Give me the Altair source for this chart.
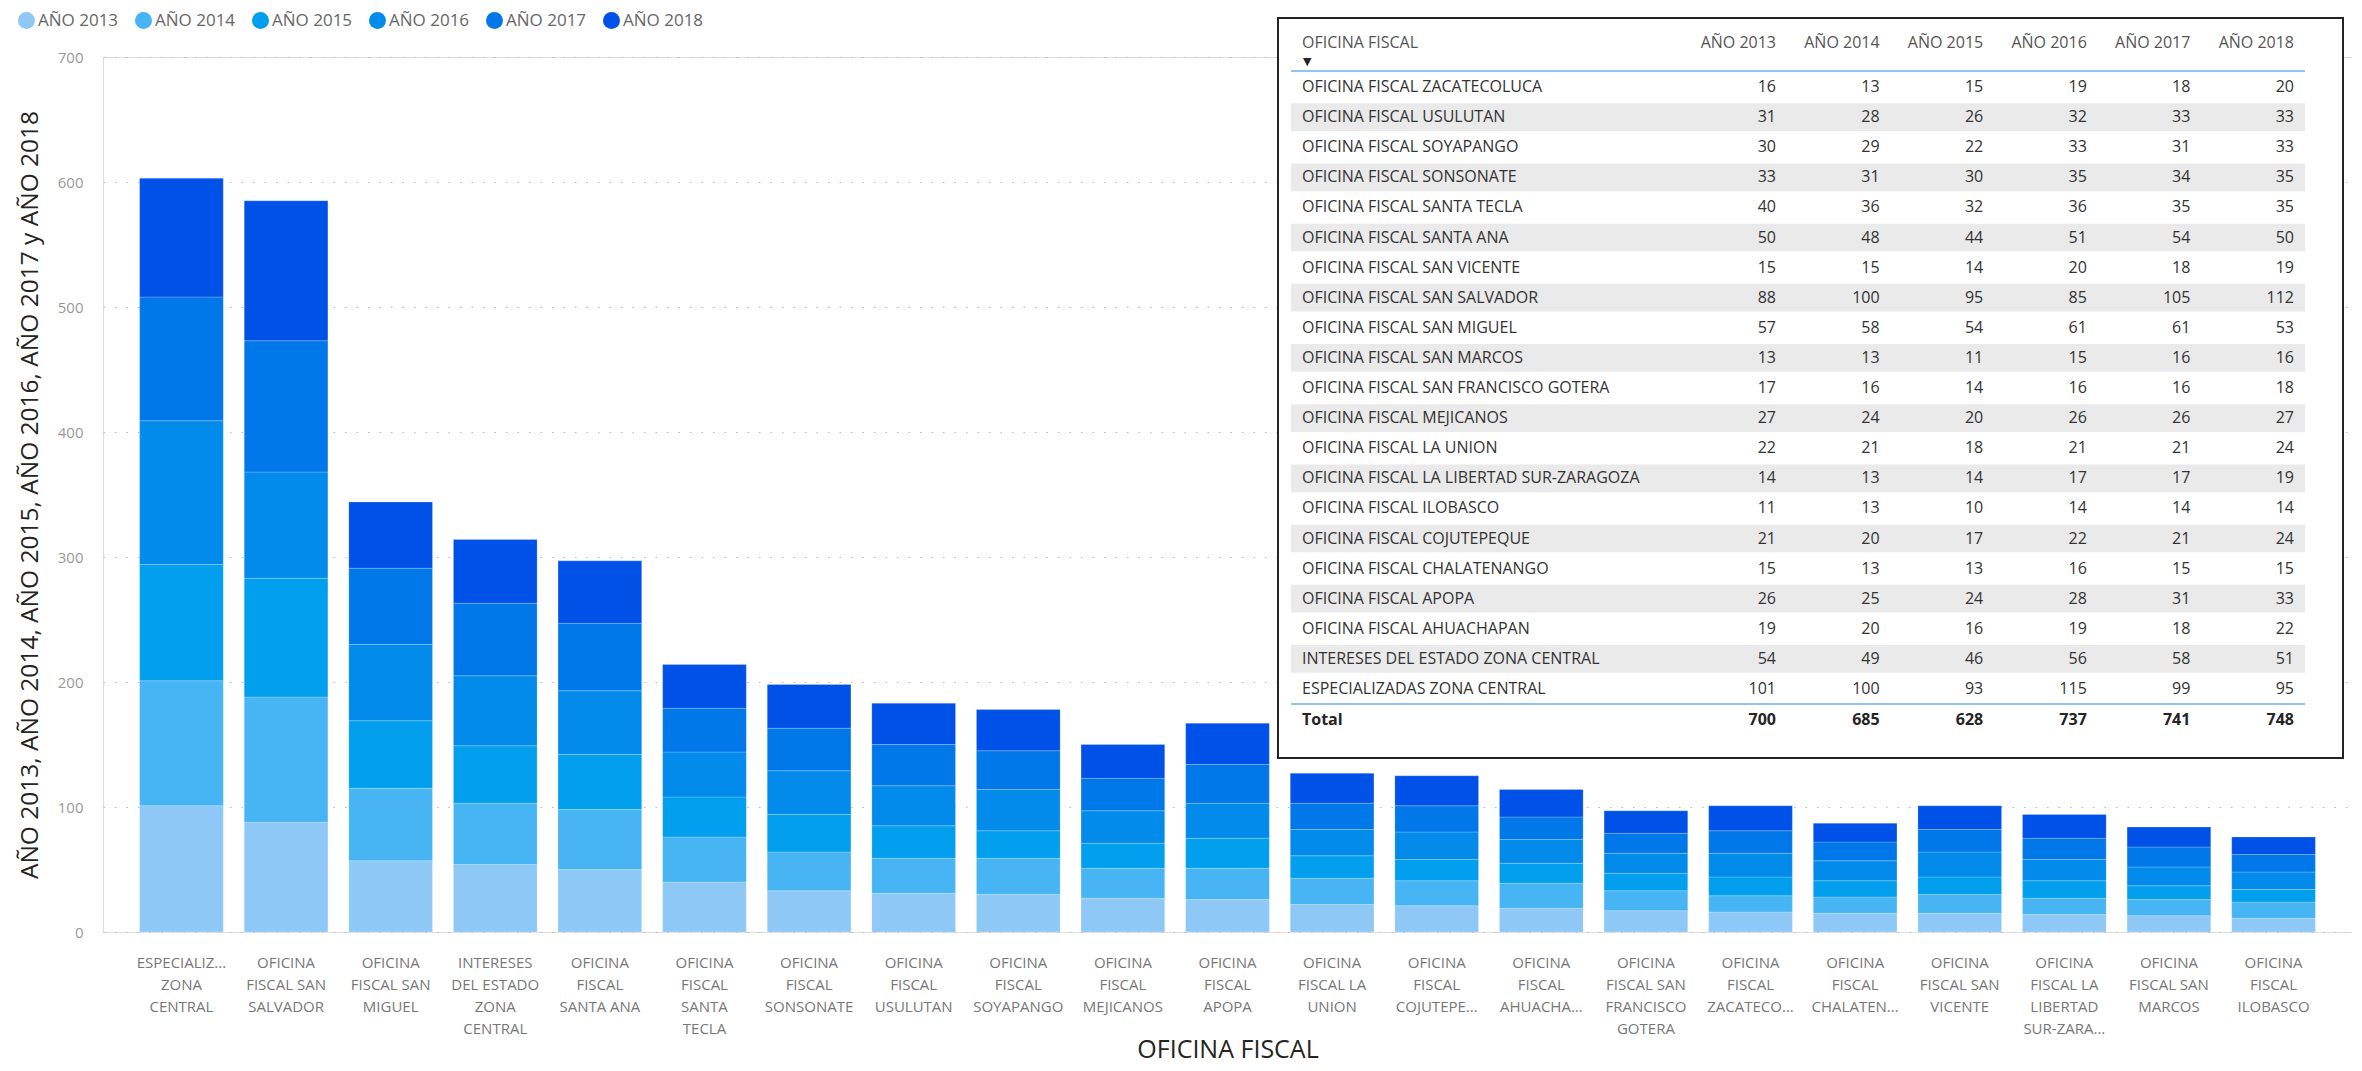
import altair as alt
import pandas as pd

FONT = "Open Sans, DejaVu Sans, sans-serif"

years = ["AÑO 2013", "AÑO 2014", "AÑO 2015", "AÑO 2016", "AÑO 2017", "AÑO 2018"]
colors = ["#8DC8F7", "#47B4F4", "#029FEF", "#028BEB", "#0178EA", "#0051E8"]

# Table order (as in the table visual)
offices = [
    "OFICINA FISCAL ZACATECOLUCA",
    "OFICINA FISCAL USULUTAN",
    "OFICINA FISCAL SOYAPANGO",
    "OFICINA FISCAL SONSONATE",
    "OFICINA FISCAL SANTA TECLA",
    "OFICINA FISCAL SANTA ANA",
    "OFICINA FISCAL SAN VICENTE",
    "OFICINA FISCAL SAN SALVADOR",
    "OFICINA FISCAL SAN MIGUEL",
    "OFICINA FISCAL SAN MARCOS",
    "OFICINA FISCAL SAN FRANCISCO GOTERA",
    "OFICINA FISCAL MEJICANOS",
    "OFICINA FISCAL LA UNION",
    "OFICINA FISCAL LA LIBERTAD SUR-ZARAGOZA",
    "OFICINA FISCAL ILOBASCO",
    "OFICINA FISCAL COJUTEPEQUE",
    "OFICINA FISCAL CHALATENANGO",
    "OFICINA FISCAL APOPA",
    "OFICINA FISCAL AHUACHAPAN",
    "INTERESES DEL ESTADO ZONA CENTRAL",
    "ESPECIALIZADAS ZONA CENTRAL",
]

# Wrapped x-axis labels, same order as offices
axis_labels = [
    "OFICINA|FISCAL|ZACATECO...",
    "OFICINA|FISCAL|USULUTAN",
    "OFICINA|FISCAL|SOYAPANGO",
    "OFICINA|FISCAL|SONSONATE",
    "OFICINA|FISCAL|SANTA|TECLA",
    "OFICINA|FISCAL|SANTA ANA",
    "OFICINA|FISCAL SAN|VICENTE",
    "OFICINA|FISCAL SAN|SALVADOR",
    "OFICINA|FISCAL SAN|MIGUEL",
    "OFICINA|FISCAL SAN|MARCOS",
    "OFICINA|FISCAL SAN|FRANCISCO|GOTERA",
    "OFICINA|FISCAL|MEJICANOS",
    "OFICINA|FISCAL LA|UNION",
    "OFICINA|FISCAL LA|LIBERTAD|SUR-ZARA...",
    "OFICINA|FISCAL|ILOBASCO",
    "OFICINA|FISCAL|COJUTEPE...",
    "OFICINA|FISCAL|CHALATEN...",
    "OFICINA|FISCAL|APOPA",
    "OFICINA|FISCAL|AHUACHA...",
    "INTERESES|DEL ESTADO|ZONA|CENTRAL",
    "ESPECIALIZ...|ZONA|CENTRAL",
]

v2013 = [16, 31, 30, 33, 40, 50, 15, 88, 57, 13, 17, 27, 22, 14, 11, 21, 15, 26, 19, 54, 101]
v2014 = [13, 28, 29, 31, 36, 48, 15, 100, 58, 13, 16, 24, 21, 13, 13, 20, 13, 25, 20, 49, 100]
v2015 = [15, 26, 22, 30, 32, 44, 14, 95, 54, 11, 14, 20, 18, 14, 10, 17, 13, 24, 16, 46, 93]
v2016 = [19, 32, 33, 35, 36, 51, 20, 85, 61, 15, 16, 26, 21, 17, 14, 22, 16, 28, 19, 56, 115]
v2017 = [18, 33, 31, 34, 35, 54, 18, 105, 61, 16, 16, 26, 21, 17, 14, 21, 15, 31, 18, 58, 99]
v2018 = [20, 33, 33, 35, 35, 50, 19, 112, 53, 16, 18, 27, 24, 19, 14, 24, 15, 33, 22, 51, 95]
series = [v2013, v2014, v2015, v2016, v2017, v2018]

# Bar order in the chart (sorted by AÑO 2013, descending)
bar_order = [
    "ESPECIALIZADAS ZONA CENTRAL",
    "OFICINA FISCAL SAN SALVADOR",
    "OFICINA FISCAL SAN MIGUEL",
    "INTERESES DEL ESTADO ZONA CENTRAL",
    "OFICINA FISCAL SANTA ANA",
    "OFICINA FISCAL SANTA TECLA",
    "OFICINA FISCAL SONSONATE",
    "OFICINA FISCAL USULUTAN",
    "OFICINA FISCAL SOYAPANGO",
    "OFICINA FISCAL MEJICANOS",
    "OFICINA FISCAL APOPA",
    "OFICINA FISCAL LA UNION",
    "OFICINA FISCAL COJUTEPEQUE",
    "OFICINA FISCAL AHUACHAPAN",
    "OFICINA FISCAL SAN FRANCISCO GOTERA",
    "OFICINA FISCAL ZACATECOLUCA",
    "OFICINA FISCAL CHALATENANGO",
    "OFICINA FISCAL SAN VICENTE",
    "OFICINA FISCAL LA LIBERTAD SUR-ZARAGOZA",
    "OFICINA FISCAL SAN MARCOS",
    "OFICINA FISCAL ILOBASCO",
]

# ---------------- data frames ----------------
bar_rows = []
for i, name in enumerate(offices):
    for k, yr in enumerate(years):
        bar_rows.append({"office": name, "label": axis_labels[i], "year": yr,
                         "yidx": k, "value": series[k][i]})
bars_df = pd.DataFrame(bar_rows)
label_order = [axis_labels[offices.index(n)] for n in bar_order]

cell_rows = []
for i in range(len(offices)):
    for k in range(len(years)):
        cell_rows.append({"row": i, "col": k, "txt": str(series[k][i])})
cells_df = pd.DataFrame(cell_rows)
names_df = pd.DataFrame({"row": list(range(len(offices))), "name": offices})
shade_df = pd.DataFrame({"row": [i for i in range(len(offices)) if i % 2 == 1]})
head_df = pd.DataFrame({"col": list(range(len(years))), "txt": years, "row": [-1] * len(years)})
total_df = pd.DataFrame({"col": list(range(len(years))),
                         "txt": [str(sum(s)) for s in series],
                         "row": [len(offices)] * len(years)})
one = pd.DataFrame({"k": [0]})

W, H = 2249, 875

# ---------------- bar chart ----------------
bars = alt.Chart(bars_df).mark_bar(stroke="#ffffff", strokeWidth=0.6, strokeOpacity=0.35).encode(
    x=alt.X("label:N", sort=label_order, title="OFICINA FISCAL",
            scale=alt.Scale(paddingInner=0.2, paddingOuter=0.35),
            axis=alt.Axis(labelExpr="split(datum.label, '|')", labelAngle=0,
                          labelFontSize=15, labelColor="#777777", labelFont=FONT,
                          labelLineHeight=22, labelPadding=23, labelLimit=0,
                          labelOverlap=False, ticks=False, tickSize=0, domain=False, grid=False,
                          titleFont=FONT, titleFontSize=25, titleColor="#252423",
                          titleFontWeight="normal", titleY=125, titleBaseline="alphabetic")),
    y=alt.Y("value:Q", stack="zero",
            title="AÑO 2013, AÑO 2014, AÑO 2015, AÑO 2016, AÑO 2017 y AÑO 2018",
            scale=alt.Scale(domain=[0, 700], nice=False),
            axis=alt.Axis(values=[0, 100, 200, 300, 400, 500, 600, 700], grid=True,
                          gridDash=[1.5, 10], gridColor="#B8B8B8", gridWidth=1.2,
                          ticks=False, tickSize=0, domain=False, labelPadding=20,
                          labelFontSize=15, labelColor="#999999", labelFont=FONT,
                          titleFont=FONT, titleFontSize=24.5, titleColor="#252423",
                          titleFontWeight="normal", titleX=-73, titleY=H / 2,
                          titleAngle=270, titleAlign="center", titleBaseline="middle")),
    color=alt.Color("year:N", scale=alt.Scale(domain=years, range=colors),
                    legend=alt.Legend(title=None, orient="none", legendX=-85, legendY=-45,
                                      direction="horizontal", symbolType="circle",
                                      symbolSize=289, symbolStrokeWidth=0, symbolOpacity=1,
                                      labelFontSize=17, labelColor="#666666", labelFont=FONT,
                                      labelOffset=3, columnPadding=16)),
    order=alt.Order("yidx:Q", sort="ascending"),
)

# ---------------- table visual ----------------
TX = alt.Scale(domain=[0, 5], range=[1673, 2191], nice=False, zero=False)
TY = alt.Scale(domain=[0, 20], range=[30, 632], nice=False, zero=False)

box = alt.Chart(one).mark_rect(fill="#ffffff", stroke="#252423", strokeWidth=2).encode(
    x=alt.value(1175), x2=alt.value(2240), y=alt.value(-39), y2=alt.value(701))

shade = alt.Chart(shade_df).mark_rect(fill="#EAEAEA").transform_calculate(
    top="datum.row - 0.46", bot="datum.row + 0.46").encode(
    x=alt.value(1188), x2=alt.value(2202),
    y=alt.Y("top:Q", scale=TY, axis=None), y2="bot:Q")

lines = alt.Chart(pd.DataFrame({"row": [-0.53, 20.5]})).mark_rule(
    stroke="#8EC7F6", strokeWidth=2).encode(
    x=alt.value(1188), x2=alt.value(2202), y=alt.Y("row:Q", scale=TY, axis=None))

names = alt.Chart(names_df).mark_text(align="left", baseline="middle", font=FONT,
                                      fontSize=16, color="#333333").encode(
    x=alt.value(1199), y=alt.Y("row:Q", scale=TY, axis=None), text="name:N")

nums = alt.Chart(cells_df).mark_text(align="right", baseline="middle", font=FONT,
                                     fontSize=16, color="#333333").encode(
    x=alt.X("col:Q", scale=TX, axis=None), y=alt.Y("row:Q", scale=TY, axis=None), text="txt:N")

head_name = alt.Chart(pd.DataFrame({"row": [-1], "txt": ["OFICINA FISCAL"]})).mark_text(
    align="left", baseline="middle", font=FONT, fontSize=16, color="#555555", dy=-14).encode(
    x=alt.value(1199), y=alt.Y("row:Q", scale=TY, axis=None), text="txt:N")

arrow = alt.Chart(pd.DataFrame({"row": [-1], "txt": ["▼"]})).mark_text(
    align="left", baseline="middle", font="DejaVu Sans", fontSize=11, color="#252423", dy=5).encode(
    x=alt.value(1200), y=alt.Y("row:Q", scale=TY, axis=None), text="txt:N")

head_years = alt.Chart(head_df).mark_text(align="right", baseline="middle", font=FONT,
                                          fontSize=16, color="#555555", dy=-14).encode(
    x=alt.X("col:Q", scale=TX, axis=None), y=alt.Y("row:Q", scale=TY, axis=None), text="txt:N")

total_lbl = alt.Chart(pd.DataFrame({"row": [len(offices)], "txt": ["Total"]})).mark_text(
    align="left", baseline="middle", font=FONT, fontSize=16, fontWeight="bold",
    color="#252423", dy=1).encode(
    x=alt.value(1199), y=alt.Y("row:Q", scale=TY, axis=None), text="txt:N")

totals = alt.Chart(total_df).mark_text(align="right", baseline="middle", font=FONT,
                                       fontSize=16, fontWeight="bold", color="#252423", dy=1).encode(
    x=alt.X("col:Q", scale=TX, axis=None), y=alt.Y("row:Q", scale=TY, axis=None), text="txt:N")

frame = alt.Chart(one).mark_rule(stroke="#555555", strokeWidth=2.5).encode(
    x=alt.value(-100), y=alt.value(-60), y2=alt.value(1030))

table = alt.layer(box, shade, lines, names, nums, head_name, arrow, head_years,
                  total_lbl, totals, frame)

chart = alt.layer(bars, table).resolve_scale(
    x="independent", y="independent"
).properties(
    width=W, height=H,
    padding={"left": 95, "top": 49, "right": 0, "bottom": 131},
    autosize=alt.AutoSizeParams(type="none"),
).configure_view(strokeWidth=0).configure(background="#ffffff")

chart.save("out.html", embed_options={"renderer": "svg", "actions": False})
